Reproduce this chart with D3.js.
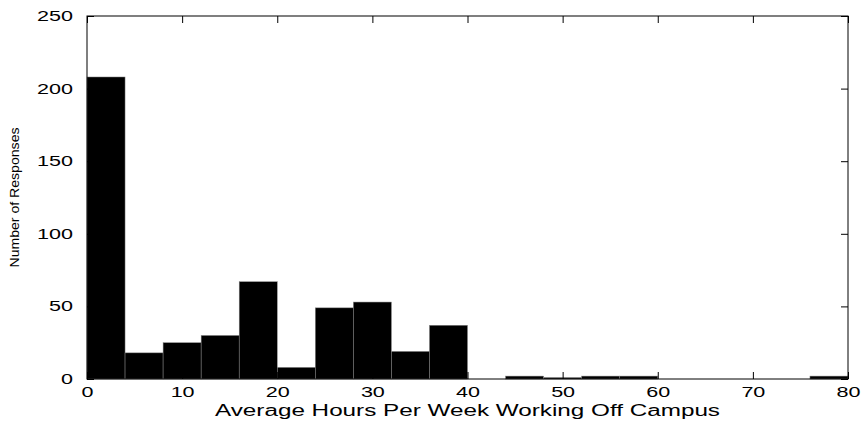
<!DOCTYPE html>
<html>
<script src="https://cdn.jsdelivr.net/npm/d3@7"></script>
<style>
  body { margin: 0; background: #fff; }
  text { font-family: "Liberation Sans", Arial, sans-serif; }
</style>
<body>
<div id="chart"></div>
<script>
var binStarts = [0,4,8,12,16,20,24,28,32,36,40,44,48,52,56,60,64,68,72,76];
var counts    = [208,18,25,30,67,8,49,53,19,37,0,2,1,2,2,0,0,0,0,2];
var xTicks = [0,10,20,30,40,50,60,70,80];
var yTicks = [0,50,100,150,200,250];

var W = 863, H = 421;
var pL = 87, pR = 848, pT = 16, pB = 379;

var svg = d3.select("#chart").append("svg")
  .attr("width", W).attr("height", H);

var x = d3.scaleLinear().domain([0, 80]).range([pL, pR]);
var y = d3.scaleLinear().domain([0, 250]).range([pB, pT]);

svg.selectAll("rect.bar")
  .data(binStarts)
  .enter().append("rect")
  .attr("class", "bar")
  .attr("x", function(d){ return x(d); })
  .attr("width", function(d){ return x(d + 4) - x(d); })
  .attr("y", function(d,i){ return y(counts[i]); })
  .attr("height", function(d,i){ return y(0) - y(counts[i]); })
  .attr("fill", "#000")
  .attr("stroke", "#888").attr("stroke-width", 0.5);

// box
svg.append("rect")
  .attr("x", pL).attr("y", pT)
  .attr("width", pR - pL).attr("height", pB - pT)
  .attr("fill", "none").attr("stroke", "#000").attr("stroke-width", 1);

// inward ticks, all four sides
svg.append("g").attr("transform", "translate(0," + pB + ")")
  .call(d3.axisBottom(x).tickValues(xTicks).tickSizeInner(-7).tickSizeOuter(0).tickPadding(8));
svg.append("g").attr("transform", "translate(0," + pT + ")")
  .call(d3.axisTop(x).tickValues(xTicks).tickSizeInner(-7).tickSizeOuter(0).tickFormat(""));
svg.append("g").attr("transform", "translate(" + pL + ",0)")
  .call(d3.axisLeft(y).tickValues(yTicks).tickSizeInner(-7).tickSizeOuter(0).tickPadding(14));
svg.append("g").attr("transform", "translate(" + pR + ",0)")
  .call(d3.axisRight(y).tickValues(yTicks).tickSizeInner(-7).tickSizeOuter(0).tickFormat(""));

svg.selectAll(".domain").remove();
svg.selectAll(".tick line").attr("stroke", "#000");
svg.selectAll(".tick text").attr("font-size", 14).attr("fill", "#000")
  .attr("font-family", "Liberation Sans, Arial, sans-serif")
  .attr("textLength", function(){ return this.textContent.length * 12; })
  .attr("lengthAdjust", "spacingAndGlyphs");

svg.append("text")
  .attr("x", (pL + pR) / 2).attr("y", 416)
  .attr("text-anchor", "middle").attr("font-size", 16)
  .attr("textLength", 505).attr("lengthAdjust", "spacingAndGlyphs")
  .text("Average Hours Per Week Working Off Campus");

svg.append("text")
  .attr("transform", "translate(19," + ((pT + pB) / 2) + ") rotate(-90)")
  .attr("text-anchor", "middle").attr("font-size", 13)
  .attr("textLength", 140).attr("lengthAdjust", "spacingAndGlyphs")
  .text("Number of Responses");
</script>
</body>
</html>
